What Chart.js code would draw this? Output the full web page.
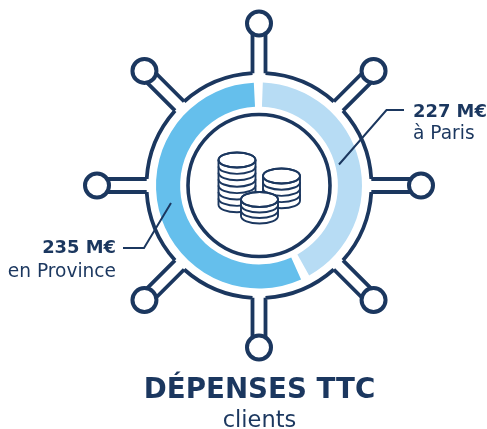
<!DOCTYPE html>
<html><head><meta charset="utf-8">
<style>html,body{margin:0;padding:0;background:#fff}canvas{display:block}</style>
<script src="https://cdn.jsdelivr.net/npm/chart.js@4"></script>
</head><body><canvas id="c" width="487" height="429"></canvas>
<script>
// Slice labels as printed, and slice shares as they are drawn in the picture
const categories = ['à Paris', 'en Province'];
const valueLabels = ['227 M€', '235 M€'];
const drawnShares = [42.5, 57.5];
const sliceColors = ['#b7dcf4', '#65bfec'];
const titleText = 'DÉPENSES TTC';
const subtitleText = 'clients';
const NAVY = '#1b375f';

const wheel = {
  id: 'wheel',
  afterDraw(chart) {
    const ctx = chart.ctx;
    const area = chart.chartArea;
    const cx = (area.left + area.right) / 2, cy = (area.top + area.bottom) / 2;
    ctx.save();
    ctx.strokeStyle = NAVY; ctx.lineCap = 'butt'; ctx.lineJoin = 'miter';

    // inner circle
    ctx.lineWidth = 3.6;
    ctx.beginPath(); ctx.arc(cx, cy, 71, 0, Math.PI * 2); ctx.stroke();

    // outer ring with 8 spokes
    const ringR = 112.5, hw = 6.5, knobD = 162, knobR = 12;
    const gap = Math.asin(hw / ringR);
    ctx.lineWidth = 3.8;
    ctx.beginPath();
    for (let i = 0; i < 8; i++) {
      const a = -Math.PI / 2 + i * Math.PI / 4;
      const cos = Math.cos(a), sin = Math.sin(a);
      const ps = (r, s) => [cx + r * cos - s * hw * sin, cy + r * sin + s * hw * cos];
      const r0 = ringR * Math.cos(gap);
      const neck = knobD - Math.sqrt(knobR * knobR - hw * hw);
      let p = ps(r0, -1); ctx.moveTo(p[0], p[1]);
      p = ps(neck, -1); ctx.lineTo(p[0], p[1]);
      p = ps(r0, 1); ctx.moveTo(p[0], p[1]);
      p = ps(neck, 1); ctx.lineTo(p[0], p[1]);
      const next = a + Math.PI / 4;
      ctx.moveTo(cx + ringR * Math.cos(a + gap), cy + ringR * Math.sin(a + gap));
      ctx.arc(cx, cy, ringR, a + gap, next - gap);
    }
    ctx.stroke();
    ctx.lineWidth = 4;
    for (let i = 0; i < 8; i++) {
      const a = -Math.PI / 2 + i * Math.PI / 4;
      ctx.beginPath();
      ctx.arc(cx + knobD * Math.cos(a), cy + knobD * Math.sin(a), knobR, 0, Math.PI * 2);
      ctx.fillStyle = '#fff'; ctx.fill(); ctx.stroke();
    }

    // coins
    const stack = (x, top, w, h, n, step) => {
      ctx.lineWidth = 1.9; ctx.fillStyle = '#fff';
      const rx = w / 2, ry = h / 2;
      ctx.beginPath();
      ctx.moveTo(x - rx, top);
      ctx.lineTo(x - rx, top + n * step);
      ctx.ellipse(x, top + n * step, rx, ry, 0, Math.PI, 0, true);
      ctx.lineTo(x + rx, top);
      ctx.ellipse(x, top, rx, ry, 0, 0, Math.PI, true);
      ctx.closePath(); ctx.fill(); ctx.stroke();
      for (let i = 0; i < n; i++) {
        ctx.beginPath();
        ctx.ellipse(x, top + i * step, rx, ry, 0, 0, Math.PI);
        ctx.stroke();
      }
      ctx.beginPath(); ctx.ellipse(x, top, rx, ry, 0, 0, Math.PI * 2); ctx.stroke();
    };
    stack(cx - 22, cy - 25.5, 37, 15, 7, 6.4);
    stack(cx + 22.5, cy - 9.5, 37, 15, 4, 6.2);
    stack(cx + 0.5, cy + 14, 37, 15, 3, 5.5);

    // callouts
    ctx.lineWidth = 2;
    ctx.beginPath();
    ctx.moveTo(cx + 80, cy - 21); ctx.lineTo(cx + 127.5, cy - 75.5); ctx.lineTo(cx + 145, cy - 75.5);
    ctx.moveTo(cx - 88, cy + 17.5); ctx.lineTo(cx - 115, cy + 62.5); ctx.lineTo(cx - 136, cy + 62.5);
    ctx.stroke();

    // text
    ctx.fillStyle = NAVY; ctx.textBaseline = 'alphabetic';
    ctx.textAlign = 'left';
    ctx.font = 'bold 17.9px "DejaVu Sans"';
    ctx.fillText(valueLabels[0], cx + 154, cy - 68.5);
    ctx.font = '18.6px "DejaVu Sans"';
    ctx.fillText(categories[0], cx + 154, cy - 46.5);
    ctx.textAlign = 'right';
    ctx.font = 'bold 17.9px "DejaVu Sans"';
    ctx.fillText(valueLabels[1], cx - 143, cy + 67.5);
    ctx.font = '18.6px "DejaVu Sans"';
    ctx.fillText(categories[1], cx - 143, cy + 91.5);
    ctx.textAlign = 'center';
    ctx.font = 'bold 27.7px "DejaVu Sans"';
    ctx.fillText(titleText, cx + 0.5, cy + 212);
    ctx.font = '22.5px "DejaVu Sans"';
    ctx.fillText(subtitleText, cx + 0.5, cy + 241);
    ctx.restore();
  }
};

new Chart(document.getElementById('c'), {
  type: 'doughnut',
  data: { labels: categories, datasets: [{
    data: drawnShares, backgroundColor: sliceColors,
    borderWidth: 0, spacing: 5, hoverOffset: 0
  }] },
  options: {
    responsive: false, animation: false, cutout: '76%',
    layout: { padding: { left: 156, right: 125, top: 82.5, bottom: 140.5 } },
    plugins: { legend: { display: false }, tooltip: { enabled: false }, title: { display: false } }
  },
  plugins: [wheel]
});
</script></body></html>
